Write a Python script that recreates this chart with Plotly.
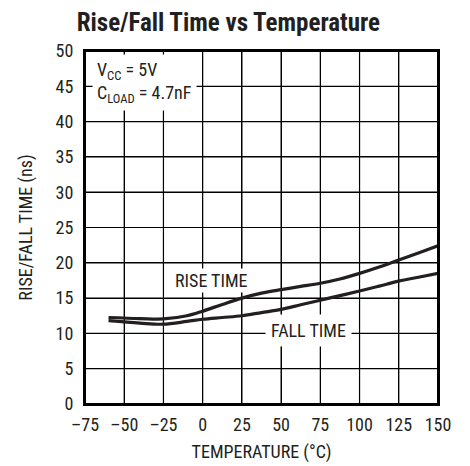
import plotly.graph_objects as go

temp = [-60, -40, -25, -10, 0, 12.5, 25, 37.5, 50, 62.5, 75, 87.5, 100, 112.5, 125, 137.5, 150]
rise = [12.25, 12.1, 12.05, 12.5, 13.15, 14.1, 15.0, 15.7, 16.2, 16.65, 17.1, 17.7, 18.5, 19.4, 20.4, 21.4, 22.4]
fall = [11.8, 11.45, 11.3, 11.7, 12.0, 12.25, 12.5, 12.95, 13.4, 14.05, 14.7, 15.35, 16.0, 16.7, 17.4, 17.95, 18.5]

x_ticks = [-75, -50, -25, 0, 25, 50, 75, 100, 125, 150]
x_tick_text = ["\u201375", "\u201350", "\u201325", "0", "25", "50", "75", "100", "125", "150"]
y_ticks = [0, 5, 10, 15, 20, 25, 30, 35, 40, 45, 50]

FONT = "Liberation Sans Narrow, Roboto Condensed, Arial Narrow, Roboto, sans-serif"
INK = "#231f20"
FS = 18

fig = go.Figure()
fig.add_trace(go.Scatter(x=temp, y=rise, mode="lines", line=dict(color=INK, width=3.2, shape="spline"), showlegend=False))
fig.add_trace(go.Scatter(x=temp, y=fall, mode="lines", line=dict(color=INK, width=3.2, shape="spline"), showlegend=False))

# grid and frame as layout shapes, placed at the axis tick values
grid_shapes = []
for xv in x_ticks[1:-1]:
    grid_shapes.append(dict(type="line", xref="x", yref="paper", x0=xv, x1=xv, y0=0, y1=1,
                            line=dict(color="black", width=1.2), layer="below"))
for yv in y_ticks[1:-1]:
    grid_shapes.append(dict(type="line", xref="paper", yref="y", x0=0, x1=1, y0=yv, y1=yv,
                            line=dict(color="black", width=1.2), layer="below"))
grid_shapes.append(dict(type="rect", xref="paper", yref="paper", x0=0, x1=1, y0=0, y1=1,
                        line=dict(color="black", width=2), layer="above"))

axis_common = dict(tickmode="array", showgrid=True, gridcolor="black", gridwidth=1.2, zeroline=False, showline=True,
                   linecolor="black", linewidth=2, mirror=True, ticks="outside", tickcolor="white", tickwidth=1,
                   automargin=False, tickfont=dict(size=FS, color=INK), layer="below traces")

fig.update_layout(
    template="none",
    width=462, height=458,
    margin=dict(l=77, r=32, t=43, b=62),
    paper_bgcolor="white", plot_bgcolor="white",
    font=dict(family=FONT, color=INK, size=FS),
    title=dict(text="<b>Rise/Fall Time vs Temperature</b>", x=0.477, xanchor="center", y=0.97, yanchor="middle",
               font=dict(family=FONT, size=25, color=INK)),
    xaxis=dict(range=[-75, 150], tickvals=x_ticks, ticktext=x_tick_text, ticklen=3,
               title=dict(text="TEMPERATURE (\u00b0C)", font=dict(size=FS), standoff=12), **axis_common),
    yaxis=dict(range=[0, 50], tickvals=y_ticks, ticklen=6,
               title=dict(text="RISE/FALL TIME (ns)", font=dict(size=FS), standoff=18), **axis_common),
    shapes=grid_shapes,
    annotations=[
        dict(x=-70.5, y=45.6, xref="x", yref="y", xanchor="left", yanchor="middle", showarrow=False, align="left",
             text="V<sub>CC</sub> = 5V<br>C<sub>LOAD</sub> = 4.7nF",
             bgcolor="white", font=dict(size=FS), borderpad=4),
        dict(x=5.7, y=17.55, xref="x", yref="y", xanchor="center", yanchor="middle", showarrow=False,
             text="RISE TIME", font=dict(size=FS), bgcolor="white", borderpad=1),
        dict(x=67.4, y=10.45, xref="x", yref="y", xanchor="center", yanchor="middle", showarrow=False,
             text="FALL TIME", font=dict(size=FS), bgcolor="white", borderpad=5),
    ],
)

fig.write_html("out.html")
